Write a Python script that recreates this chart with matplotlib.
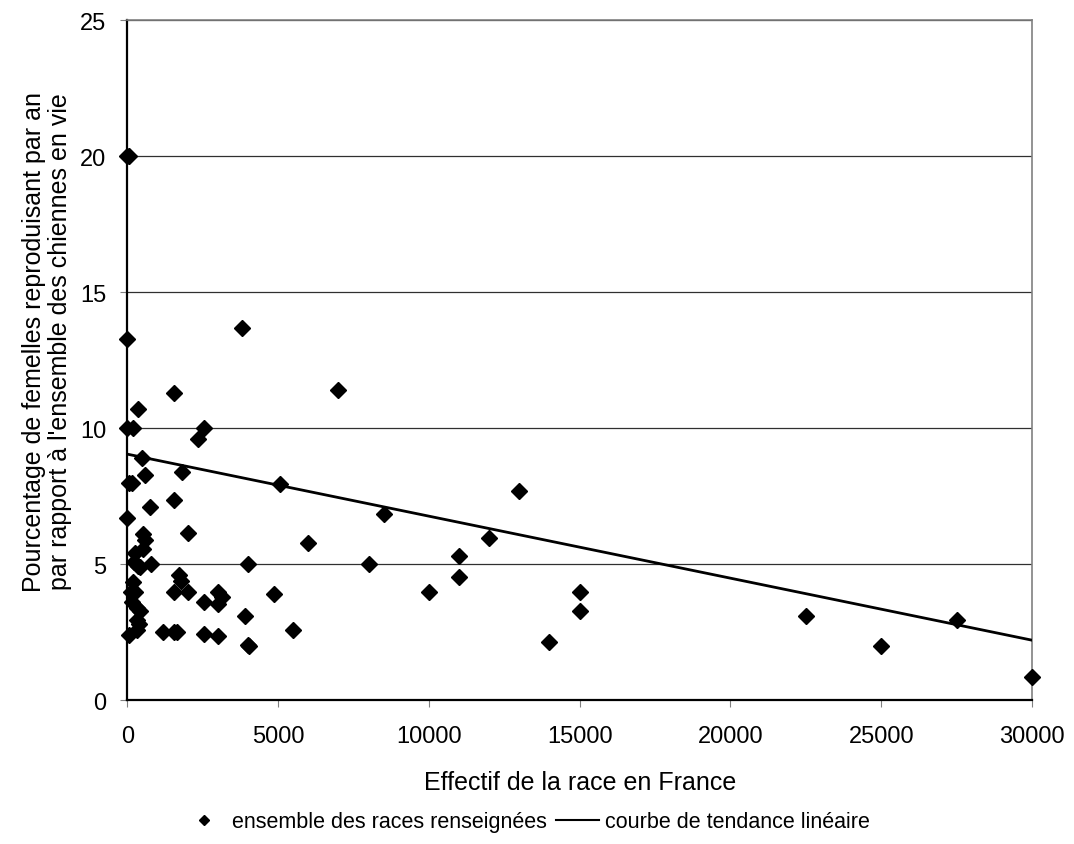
import matplotlib
matplotlib.use("Agg")
import matplotlib.pyplot as plt
from matplotlib.lines import Line2D
import numpy as np

# effectif de la race (x) et pourcentage de femelles reproduisant (y)
effectif = [0, 50, 0, 3800, 1550, 7000, 350, 0, 200, 2550,
            2350, 480, 600, 1800, 50, 150, 5050, 1550, 750, 13000,
            8500, 0, 2000, 530, 590, 12000, 6000, 530, 250, 11000,
            220, 360, 420, 800, 4000, 8000, 1700, 1780, 11000, 200,
            110, 250, 1550, 2000, 3000, 10000, 15000, 4850, 3150, 3000,
            2550, 150, 310, 420, 15000, 3900, 22500, 27500, 310, 400,
            310, 5500, 1200, 1550, 1650, 2550, 60, 3000, 14000, 4000,
            4050, 25000, 30000]
pourcentage = [20.0, 20.0, 13.3, 13.7, 11.3, 11.4, 10.7, 10.0, 10.0, 10.0,
               9.6, 8.9, 8.3, 8.4, 8.0, 8.0, 7.95, 7.35, 7.1, 7.7,
               6.85, 6.7, 6.15, 6.1, 5.9, 5.95, 5.8, 5.55, 5.4, 5.3,
               5.1, 4.95, 4.9, 5.0, 5.0, 5.0, 4.6, 4.4, 4.55, 4.35,
               4.0, 4.0, 4.0, 4.0, 4.0, 4.0, 4.0, 3.9, 3.8, 3.55,
               3.6, 3.6, 3.4, 3.3, 3.3, 3.1, 3.1, 2.95, 2.95, 2.8,
               2.6, 2.6, 2.5, 2.5, 2.5, 2.45, 2.4, 2.35, 2.15, 2.05,
               1.98, 2.0, 0.85]

# courbe de tendance lineaire
tendance_origine = 9.05
tendance_pente = -0.000228

x_ticks = [0, 5000, 10000, 15000, 20000, 25000, 30000]
y_ticks = [0, 5, 10, 15, 20, 25]

plt.rcParams['font.family'] = ['Liberation Sans', 'DejaVu Sans']

fig = plt.figure(figsize=(10.74, 8.45), dpi=100)
ax = fig.add_axes([127.3 / 1074, 1 - 701.3 / 845, (1032 - 127.3) / 1074, (701.3 - 21.3) / 845])

ax.set_xlim(0, 30000)
ax.set_ylim(0, 25)
ax.set_xticks(x_ticks)
ax.set_yticks(y_ticks)
ax.tick_params(axis='both', labelsize=17, length=5, color='#808080', direction='out')
ax.tick_params(axis='x', pad=13)
ax.tick_params(axis='y', pad=10)

for v in y_ticks[1:]:
    ax.axhline(v, color='#303030', linewidth=0.9, zorder=1)

ax.spines['left'].set_color('black')
ax.spines['bottom'].set_color('black')
ax.spines['left'].set_linewidth(1.6)
ax.spines['bottom'].set_linewidth(1.6)
ax.spines['top'].set_color('#808080')
ax.spines['right'].set_color('#808080')
ax.spines['top'].set_linewidth(1.2)
ax.spines['right'].set_linewidth(1.2)

xt = np.array([0, 30000])
ax.plot(xt, tendance_origine + tendance_pente * xt, color='black', linewidth=2, zorder=3)
ax.plot(effectif, pourcentage, linestyle='none', marker='D', markersize=8,
        color='black', clip_on=False, zorder=4)

ax.set_xlabel('Effectif de la race en France', fontsize=18)
ax.xaxis.set_label_coords(0.5, (701.3 - 771) / 680)
ax.set_ylabel("Pourcentage de femelles reproduisant par an\npar rapport à l'ensemble des chiennes en vie",
              fontsize=18, linespacing=1.1)
ax.yaxis.set_label_coords((72 - 127.3) / 904.7, (701.3 - 342) / 680)

handles = [Line2D([], [], linestyle='none', marker='D', markersize=5.5, color='black'),
           Line2D([], [], color='black', linewidth=1.5)]
fig.legend(handles, ['ensemble des races renseignées', 'courbe de tendance linéaire'],
           loc='center', bbox_to_anchor=(0.49, 1 - 823 / 845), ncol=2, frameon=False,
           fontsize=15.5, handlelength=2.0, handletextpad=0.3, columnspacing=0.4)

fig.savefig('out.png', dpi=100)
